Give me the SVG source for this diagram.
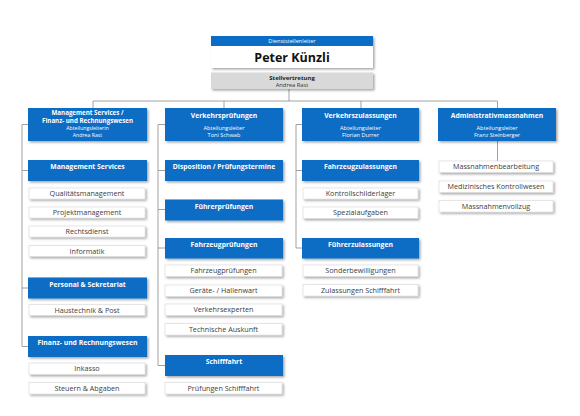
<svg xmlns="http://www.w3.org/2000/svg" width="580" height="416" viewBox="0 0 580 416">
<defs>
<filter id="sh" x="-10%" y="-20%" width="130%" height="160%">
<feDropShadow dx="1.5" dy="1.5" stdDeviation="0.9" flood-color="#000" flood-opacity="0.35"/>
</filter>
<style>
text{font-family:"Open Sans","Noto Sans","Liberation Sans",sans-serif;text-anchor:middle}
.b{fill:#0A6CC4;filter:url(#sh)}
.w{fill:#fff;stroke:#d0d0d0;stroke-width:0.5;filter:url(#sh)}
.g{fill:#d9d9d9;filter:url(#sh)}
.bt{fill:#fff;font-weight:bold;font-size:6.8px}
.st{fill:#fff;font-size:5.6px}
.wt{fill:#404040;font-size:7.2px}
.c{stroke:#8a8a8a;stroke-width:0.8;fill:none}
</style>
</defs>
<rect width="580" height="416" fill="#fff"/>
<g id="connectors" class="c">
<path d="M289 89V101M93 101H497.5M93 101V108M224 101V108M361 101V108M497.5 101V108"/>
<path d="M22 124.5V346.5M22 124.5H28M22 170.5H28M22 288H28M22 346.5H28"/>
<path d="M158 124.5V365.5M158 124.5H165M158 170.5H165M158 209.5H165M158 248H165M158 365.5H165"/>
<path d="M296 124.5V248M296 124.5H302M296 170.5H302M296 248H302"/>
<path d="M497.5 141V161"/>
</g>
<g id="leiter">
<rect x="211" y="36" width="162" height="32" fill="#fff" filter="url(#sh)"/>
<rect x="211" y="36" width="162" height="10" fill="#0A6CC4"/>
<text x="292" y="43.2" class="st">Dienststellenleiter</text>
<text x="292" y="61.5" style="font-weight:bold;font-size:12.5px;fill:#111">Peter Künzli</text>
</g>
<g id="stellvertretung">
<rect x="211" y="72.5" width="162" height="16.5" class="g"/>
<text x="292" y="79.5" style="font-weight:bold;font-size:6px;fill:#222">Stellvertretung</text>
<text x="292" y="86.5" style="font-size:5.8px;fill:#333">Andrea Rast</text>
</g>
<g id="col1">
<g id="ms-frw"><rect x="28" y="108" width="119" height="33" class="b"/>
<text x="87.5" y="115.3" class="bt" style="font-size:6.2px">Management Services /</text>
<text x="87.5" y="122.9" class="bt" style="font-size:6.2px">Finanz- und Rechnungswesen</text>
<text x="87.5" y="130.4" class="st" style="font-size:5.2px">Abteilungsleiterin</text>
<text x="87.5" y="137.3" class="st" style="font-size:5.2px">Andrea Rast</text></g>
<g id="ms"><rect x="28" y="160" width="119" height="21" class="b"/><text x="87.5" y="169" class="bt">Management Services</text></g>
<g id="qm"><rect x="29" y="188" width="116" height="11" class="w"/><text x="87" y="196" class="wt">Qualitätsmanagement</text></g>
<g id="pm"><rect x="29" y="207" width="116" height="11" class="w"/><text x="87" y="215" class="wt">Projektmanagement</text></g>
<g id="rd"><rect x="29" y="226" width="116" height="11" class="w"/><text x="87" y="234" class="wt">Rechtsdienst</text></g>
<g id="inf"><rect x="29" y="245.5" width="116" height="11" class="w"/><text x="87" y="253.5" class="wt">Informatik</text></g>
<g id="ps"><rect x="28" y="277.5" width="119" height="21" class="b"/><text x="87.5" y="286.5" class="bt">Personal &amp; Sekretariat</text></g>
<g id="hp"><rect x="29" y="304.5" width="116" height="11" class="w"/><text x="87" y="312.5" class="wt">Haustechnik &amp; Post</text></g>
<g id="frw"><rect x="28" y="336" width="119" height="21" class="b"/><text x="87.5" y="345" class="bt">Finanz- und Rechnungswesen</text></g>
<g id="ink"><rect x="29" y="363" width="116" height="11.5" class="w"/><text x="87" y="371.2" class="wt">Inkasso</text></g>
<g id="sa"><rect x="29" y="382.5" width="116" height="11.5" class="w"/><text x="87" y="390.7" class="wt">Steuern &amp; Abgaben</text></g>
</g>
<g id="col2">
<g id="vp"><rect x="165" y="108" width="118" height="33" class="b"/>
<text x="224" y="117.5" class="bt">Verkehrsprüfungen</text>
<text x="224" y="130" class="st">Abteilungsleiter</text>
<text x="224" y="136.5" class="st">Toni Schwab</text></g>
<g id="disp"><rect x="165" y="160" width="118" height="21" class="b"/><text x="224" y="169" class="bt">Disposition / Prüfungstermine</text></g>
<g id="fp"><rect x="165" y="199.5" width="118" height="21" class="b"/><text x="224" y="208.5" class="bt">Führerprüfungen</text></g>
<g id="fzp"><rect x="165" y="238" width="118" height="20.5" class="b"/><text x="224" y="247" class="bt">Fahrzeugprüfungen</text></g>
<g id="fzp2"><rect x="165" y="265" width="117" height="11.5" class="w"/><text x="223.5" y="273.2" class="wt">Fahrzeugprüfungen</text></g>
<g id="ghw"><rect x="165" y="285" width="117" height="11.5" class="w"/><text x="223.5" y="293.2" class="wt">Geräte- / Hallenwart</text></g>
<g id="vex"><rect x="165" y="304" width="117" height="11.5" class="w"/><text x="223.5" y="312.2" class="wt">Verkehrsexperten</text></g>
<g id="ta"><rect x="165" y="323.5" width="117" height="11.5" class="w"/><text x="223.5" y="331.7" class="wt">Technische Auskunft</text></g>
<g id="sf"><rect x="165" y="355" width="118" height="21" class="b"/><text x="224" y="364" class="bt">Schifffahrt</text></g>
<g id="psf"><rect x="165" y="382.5" width="117" height="11.5" class="w"/><text x="223.5" y="390.7" class="wt">Prüfungen Schifffahrt</text></g>
</g>
<g id="col3">
<g id="vz"><rect x="302" y="108" width="117" height="33" class="b"/>
<text x="360.5" y="117.5" class="bt">Verkehrszulassungen</text>
<text x="360.5" y="130" class="st">Abteilungsleiter</text>
<text x="360.5" y="136.5" class="st">Florian Durrer</text></g>
<g id="fzz"><rect x="302" y="160" width="117" height="21" class="b"/><text x="360.5" y="169" class="bt">Fahrzeugzulassungen</text></g>
<g id="ksl"><rect x="303" y="188" width="115" height="11" class="w"/><text x="360.5" y="196" class="wt">Kontrollschilderlager</text></g>
<g id="spa"><rect x="303" y="207" width="115" height="11.5" class="w"/><text x="360.5" y="215.2" class="wt">Spezialaufgaben</text></g>
<g id="fz"><rect x="302" y="238" width="117" height="20.5" class="b"/><text x="360.5" y="247" class="bt">Führerzulassungen</text></g>
<g id="sb"><rect x="303" y="265" width="115" height="11.5" class="w"/><text x="360.5" y="273.2" class="wt">Sonderbewilligungen</text></g>
<g id="zsf"><rect x="303" y="284.5" width="115" height="11.5" class="w"/><text x="360.5" y="292.7" class="wt">Zulassungen Schifffahrt</text></g>
</g>
<g id="col4">
<g id="am"><rect x="438" y="108" width="118" height="33" class="b"/>
<text x="497" y="117.5" class="bt">Administrativmassnahmen</text>
<text x="497" y="130" class="st">Abteilungsleiter</text>
<text x="497" y="136.5" class="st">Franz Steinberger</text></g>
<g id="mb"><rect x="439" y="161" width="114" height="11.5" class="w"/><text x="496" y="169.2" class="wt">Massnahmenbearbeitung</text></g>
<g id="mk"><rect x="439" y="181" width="114" height="11.5" class="w"/><text x="496" y="189.2" class="wt">Medizinisches Kontrollwesen</text></g>
<g id="mv"><rect x="439" y="200.5" width="114" height="11.5" class="w"/><text x="496" y="208.7" class="wt">Massnahmenvollzug</text></g>
</g>
</svg>
